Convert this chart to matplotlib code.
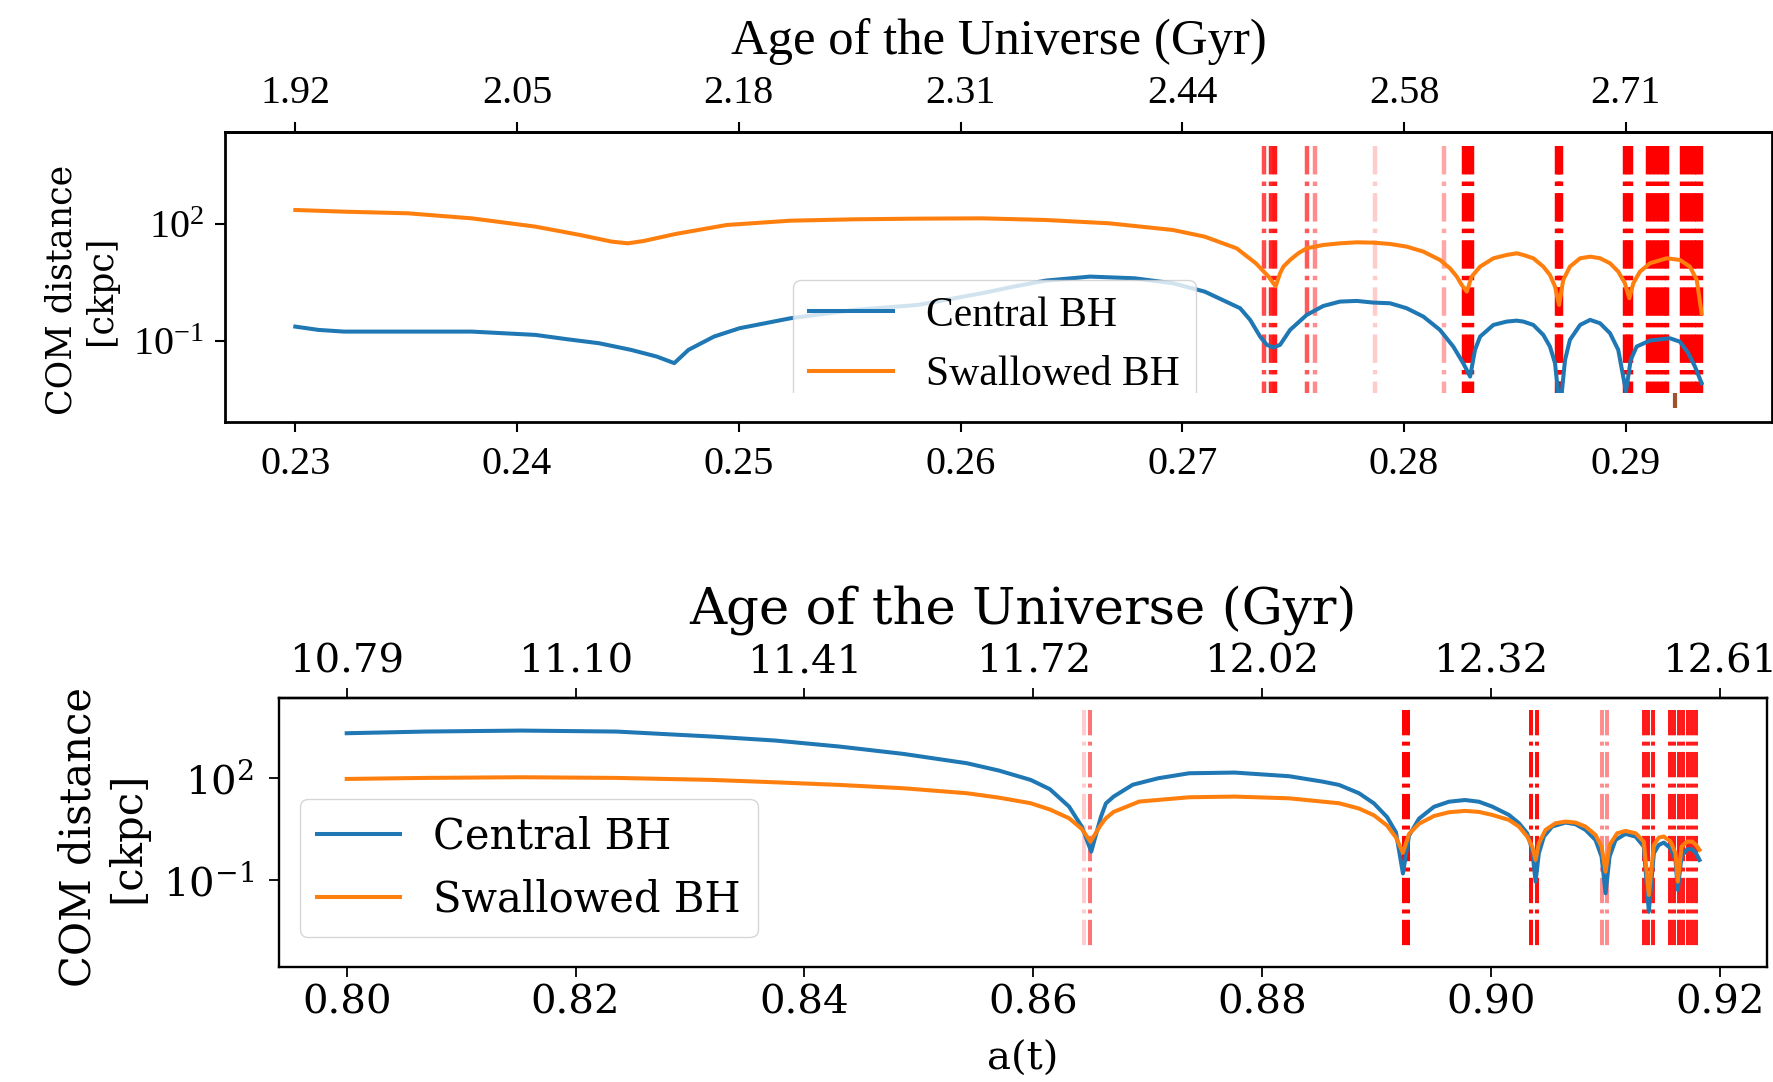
import numpy as np
import matplotlib
matplotlib.use("Agg")
import matplotlib.pyplot as plt
from matplotlib.ticker import NullLocator
from matplotlib.patches import Rectangle

BLUE = "#1f77b4"
ORANGE = "#ff7f0e"

# ---------------- early merger (upper panel) ----------------
# scale factor a(t) and log10 of COM distance [ckpc]
top_central_a = [0.23000, 0.23105, 0.23220, 0.23508, 0.23795, 0.24083, 0.24226, 0.24370,
                 0.24514, 0.24629, 0.24709, 0.24773, 0.24888, 0.25003, 0.25233, 0.25520,
                 0.25808, 0.26095, 0.26239, 0.26383, 0.26584, 0.26785, 0.26958, 0.27101,
                 0.27261, 0.27306, 0.27351, 0.27381, 0.27411, 0.27441, 0.27486, 0.27561,
                 0.27636, 0.27711, 0.27787, 0.27862, 0.27937, 0.28012, 0.28087, 0.28162,
                 0.28222, 0.28267, 0.28298, 0.28320, 0.28343, 0.28403, 0.28463, 0.28508,
                 0.28538, 0.28583, 0.28628, 0.28658, 0.28681, 0.28703, 0.28726, 0.28748,
                 0.28794, 0.28839, 0.28884, 0.28929, 0.28966, 0.29001, 0.29022, 0.29049,
                 0.29109, 0.29199, 0.29244, 0.29282, 0.29312, 0.29342]
top_central_log = [-0.633, -0.718, -0.761, -0.761, -0.761, -0.846, -0.957, -1.06,
                   -1.23, -1.40, -1.57, -1.23, -0.889, -0.675, -0.419, -0.205,
                   -0.077, 0.222, 0.393, 0.547, 0.65, 0.607, 0.479, 0.265,
                   -0.162, -0.461, -0.889, -1.10, -1.17, -1.10, -0.718, -0.333,
                   -0.103, 0.009, 0.026, -0.017, -0.034, -0.162, -0.376, -0.718,
                   -1.145, -1.573, -1.915, -1.23, -0.889, -0.59, -0.504, -0.48,
                   -0.504, -0.59, -0.846, -1.145, -1.573, -2.80, -1.49, -0.974,
                   -0.59, -0.461, -0.547, -0.803, -1.23, -2.30, -1.49, -1.145,
                   -0.99, -0.932, -1.02, -1.316, -1.658, -2.085]

top_swallowed_a = [0.23000, 0.23220, 0.23508, 0.23795, 0.24083, 0.24284, 0.24427, 0.24500,
                   0.24571, 0.24715, 0.24945, 0.25233, 0.25520, 0.25808, 0.26095, 0.26383,
                   0.26670, 0.26958, 0.27101, 0.27245, 0.27332, 0.27389, 0.27421, 0.27441,
                   0.27456, 0.27486, 0.27523, 0.27561, 0.27636, 0.27711, 0.27787, 0.27862,
                   0.27937, 0.28012, 0.28087, 0.28162, 0.28207, 0.28238, 0.28260, 0.28283,
                   0.28305, 0.28343, 0.28403, 0.28463, 0.28508, 0.28538, 0.28583, 0.28628,
                   0.28658, 0.28681, 0.28699, 0.28718, 0.28748, 0.28794, 0.28839, 0.28884,
                   0.28929, 0.28966, 0.28996, 0.29016, 0.29034, 0.29064, 0.29109, 0.29184,
                   0.29244, 0.29289, 0.29320, 0.29342]
top_swallowed_log = [2.359, 2.316, 2.274, 2.145, 1.932, 1.718, 1.547, 1.504,
                     1.564, 1.744, 1.974, 2.085, 2.12, 2.137, 2.145, 2.103,
                     2.017, 1.846, 1.675, 1.376, 0.99, 0.65, 0.40, 0.736,
                     0.906, 1.077, 1.248, 1.376, 1.462, 1.504, 1.53, 1.521,
                     1.487, 1.419, 1.291, 1.077, 0.863, 0.65, 0.436, 0.265,
                     0.65, 0.906, 1.12, 1.205, 1.248, 1.205, 1.12, 0.906,
                     0.693, 0.394, -0.077, 0.565, 0.906, 1.12, 1.162, 1.12,
                     0.992, 0.778, 0.479, 0.094, 0.479, 0.778, 0.992, 1.12,
                     1.077, 0.906, 0.565, -0.29]

top_event_a = [0.27369, 0.27398, 0.27416, 0.27561, 0.27597, 0.27869, 0.28181,
               0.28271, 0.28290, 0.28308, 0.28688, 0.28700, 0.28710,
               0.28998, 0.29012, 0.29025,
               0.29100, 0.29118, 0.29136, 0.29154, 0.29172, 0.29186,
               0.29255, 0.29272, 0.29289, 0.29306, 0.29323, 0.29340]
top_event_alpha = [0.7, 0.85, 0.9, 0.65, 0.45, 0.2, 0.35,
                   1, 1, 1, 1, 1, 1,
                   1, 1, 1,
                   1, 1, 1, 1, 1, 1,
                   1, 1, 1, 1, 1, 1]
top_merger_a = [0.2922]

top_a_ticks = [0.23, 0.24, 0.25, 0.26, 0.27, 0.28, 0.29]
top_a_labels = ["0.23", "0.24", "0.25", "0.26", "0.27", "0.28", "0.29"]
top_age_labels = ["1.92", "2.05", "2.18", "2.31", "2.44", "2.58", "2.71"]

# ---------------- late merger (lower panel) ----------------
bot_central_a = [0.80000, 0.80687, 0.81522, 0.82358, 0.83194, 0.83750, 0.84307, 0.84865,
                 0.85421, 0.85700, 0.85978, 0.86146, 0.86313, 0.86424, 0.86507, 0.86591,
                 0.86635, 0.86702, 0.86870, 0.87093, 0.87363, 0.87761, 0.88236, 0.88527,
                 0.88673, 0.88847, 0.88978, 0.89092, 0.89170, 0.89231, 0.89284, 0.89371,
                 0.89502, 0.89633, 0.89773, 0.89895, 0.90011, 0.90157, 0.90245, 0.90317,
                 0.90361, 0.90390, 0.90419, 0.90463, 0.90535, 0.90652, 0.90740, 0.90827,
                 0.90914, 0.90967, 0.91002, 0.91037, 0.91089, 0.91176, 0.91264, 0.91336,
                 0.91380, 0.91424, 0.91467, 0.91511, 0.91570, 0.91613, 0.91633, 0.91666,
                 0.91715, 0.91758, 0.91793, 0.91823]
bot_central_log = [3.314, 3.363, 3.392, 3.363, 3.216, 3.098, 2.922, 2.706,
                   2.431, 2.216, 1.941, 1.667, 1.157, 0.569, -0.167, 0.85,
                   1.25, 1.45, 1.80, 1.99, 2.137, 2.157, 2.05, 1.892,
                   1.794, 1.55, 1.25, 0.85, 0.40, -0.81, 0.30, 0.80,
                   1.15, 1.30, 1.35, 1.30, 1.157, 0.912, 0.667, 0.373,
                   -0.118, -1.049, -0.216, 0.275, 0.569, 0.686, 0.637, 0.471,
                   0.176, -0.314, -1.392, -0.314, 0.176, 0.353, 0.275, -0.02,
                   -1.931, -0.216, 0.029, 0.098, -0.069, -0.412, -1.294, -0.314,
                   -0.098, -0.098, -0.216, -0.412]

bot_swallowed_a = [0.80000, 0.80687, 0.81522, 0.82358, 0.83194, 0.83750, 0.84307, 0.84865,
                   0.85421, 0.85700, 0.85978, 0.86146, 0.86313, 0.86424, 0.86500, 0.86591,
                   0.86635, 0.86702, 0.86926, 0.87363, 0.87761, 0.88236, 0.88673, 0.88847,
                   0.88978, 0.89092, 0.89170, 0.89231, 0.89284, 0.89371, 0.89502, 0.89633,
                   0.89773, 0.89895, 0.90011, 0.90157, 0.90245, 0.90317, 0.90361, 0.90390,
                   0.90419, 0.90477, 0.90564, 0.90652, 0.90740, 0.90827, 0.90914, 0.90967,
                   0.91002, 0.91037, 0.91104, 0.91176, 0.91264, 0.91336, 0.91380, 0.91424,
                   0.91467, 0.91511, 0.91570, 0.91613, 0.91633, 0.91666, 0.91715, 0.91758,
                   0.91793, 0.91823]
bot_swallowed_log = [1.97, 2.00, 2.02, 2.00, 1.941, 1.87, 1.794, 1.696,
                     1.549, 1.42, 1.255, 1.07, 0.814, 0.50, 0.127, 0.62,
                     0.814, 1.00, 1.304, 1.431, 1.451, 1.40, 1.255, 1.10,
                     0.90, 0.60, 0.25, -0.20, 0.35, 0.65, 0.88, 0.99,
                     1.03, 1.00, 0.912, 0.765, 0.569, 0.275, -0.02, -0.412,
                     0.078, 0.471, 0.667, 0.716, 0.686, 0.569, 0.324, -0.02,
                     -0.755, 0.029, 0.373, 0.441, 0.373, 0.127, -1.441, 0.029,
                     0.245, 0.275, 0.127, -0.216, -1.049, -0.02, 0.127, 0.127,
                     0.029, -0.118]

bot_event_a = [0.86445, 0.86498, 0.89240, 0.89275, 0.90349, 0.90402,
               0.90969, 0.91013, 0.91336, 0.91371, 0.91415,
               0.91563, 0.91603, 0.91642, 0.91681, 0.91721, 0.91755, 0.91795]
bot_event_alpha = [0.2, 0.55, 1, 1, 0.95, 0.95,
                   0.45, 0.45, 0.9, 0.9, 0.9,
                   0.9, 0.9, 0.9, 0.9, 0.9, 0.9, 0.9]

bot_a_ticks = [0.80, 0.82, 0.84, 0.86, 0.88, 0.90, 0.92]
bot_a_labels = ["0.80", "0.82", "0.84", "0.86", "0.88", "0.90", "0.92"]
bot_age_labels = ["10.79", "11.10", "11.41", "11.72", "12.02", "12.32", "12.61"]

fig = plt.figure(figsize=(17.73, 10.82), dpi=100)
fig.patch.set_facecolor("white")

# ================= upper panel =================
SERIF_T = "Liberation Serif"
ax1 = fig.add_axes([0.1269, 0.6100, 0.8725, 0.2680])
ax1.set_yscale("log")
ax1.vlines(top_event_a, 1e4, 1e-3,
           colors=[(1.0, 0.0, 0.0, al) for al in top_event_alpha],
           linestyles="-.", linewidth=3.2)
ax1.plot(top_central_a, 10 ** np.array(top_central_log), color=BLUE, lw=2.9,
         label="Central BH")
ax1.plot(top_swallowed_a, 10 ** np.array(top_swallowed_log), color=ORANGE, lw=2.9,
         label="Swallowed BH")
ax1.set_ylim(10 ** -3.08, 10 ** 4.36)
ax1.set_xticks(top_a_ticks)
ax1.set_xticklabels(top_a_labels)
ax1.set_yticks([1e-1, 1e2])
ax1.yaxis.set_minor_locator(NullLocator())
ax1.tick_params(axis="both", labelsize=29, length=7.2, width=1.5,
                labelfontfamily=SERIF_T)
ax1.tick_params(axis="x", pad=10)
ax1.tick_params(axis="y", pad=8)
for sp in ax1.spines.values():
    sp.set_linewidth(2.0)
    sp.set_zorder(10)
ax1.set_ylabel("COM distance\n[ckpc]", family="DejaVu Serif", fontsize=25)
ax1.yaxis.set_label_coords(-0.069, 0.455)
ax1.legend(loc="upper left", bbox_to_anchor=(0.367, 0.49), borderaxespad=0,
           prop={"family": SERIF_T, "size": 30})
# blank strip along the bottom of the frame
ax1.add_patch(Rectangle((0, 0), 1, 0.1, transform=ax1.transAxes,
                        facecolor="white", edgecolor="none", zorder=8))
ax1.vlines(top_merger_a, 10 ** -2.72, 10 ** -2.33, color="#a0522d", lw=3, zorder=9)

sec1 = ax1.secondary_xaxis("top")
sec1.set_xticks(top_a_ticks, labels=top_age_labels)
sec1.tick_params(labelsize=29, length=7.2, width=1.5, pad=7,
                 labelfontfamily=SERIF_T)
sec1.spines["top"].set_linewidth(2.0)
sec1.set_xlabel("Age of the Universe (Gyr)", family=SERIF_T, fontsize=36.5,
                labelpad=15)

# ================= lower panel =================
SERIF_D = "DejaVu Serif"
ax2 = fig.add_axes([0.1574, 0.1063, 0.8393, 0.2486])
ax2.set_yscale("log")
ax2.vlines(bot_event_a, 1e4, 1e-3,
           colors=[(1.0, 0.0, 0.0, al) for al in bot_event_alpha],
           linestyles="-.", linewidth=2.85)
ax2.plot(bot_central_a, 10 ** np.array(bot_central_log), color=BLUE, lw=2.9,
         label="Central BH")
ax2.plot(bot_swallowed_a, 10 ** np.array(bot_swallowed_log), color=ORANGE, lw=2.9,
         label="Swallowed BH")
ax2.set_ylim(10 ** -3.56, 10 ** 4.35)
ax2.set_xticks(bot_a_ticks)
ax2.set_xticklabels(bot_a_labels)
ax2.set_yticks([1e-1, 1e2])
ax2.yaxis.set_minor_locator(NullLocator())
ax2.tick_params(axis="both", labelsize=29, length=7, width=1.3,
                labelfontfamily=SERIF_D)
ax2.tick_params(axis="x", pad=5.8)
ax2.tick_params(axis="y", pad=11)
for sp in ax2.spines.values():
    sp.set_linewidth(1.7)
ax2.set_ylabel("COM distance\n[ckpc]", family=SERIF_D, fontsize=30)
ax2.yaxis.set_label_coords(-0.088, 0.483)
ax2.set_xlabel("a(t)", family=SERIF_D, fontsize=29, labelpad=14)
ax2.legend(loc="upper left", bbox_to_anchor=(0.014, 0.625), borderaxespad=0,
           prop={"family": SERIF_D, "size": 30})

sec2 = ax2.secondary_xaxis("top")
sec2.set_xticks(bot_a_ticks, labels=bot_age_labels)
sec2.tick_params(labelsize=29, length=7, width=1.3, pad=5.8,
                 labelfontfamily=SERIF_D)
sec2.spines["top"].set_linewidth(1.7)
sec2.set_xlabel("Age of the Universe (Gyr)", family=SERIF_D, fontsize=37,
                labelpad=14)

fig.savefig("out.png", dpi=100, facecolor="white")
